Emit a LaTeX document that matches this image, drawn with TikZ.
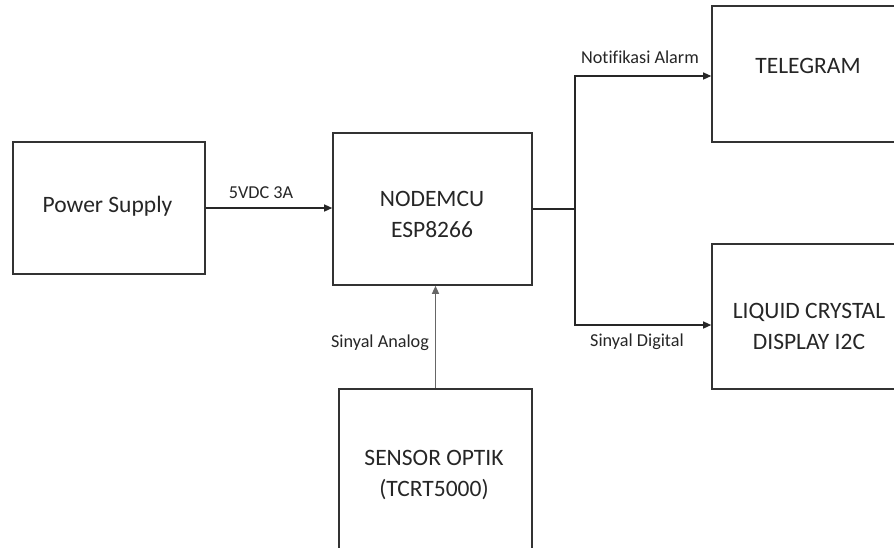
\documentclass[tikz,border=0pt]{standalone}
\usepackage{fontspec}
\setmainfont[Ligatures={NoCommon}]{Carlito}
\usetikzlibrary{arrows.meta}
\begin{document}
\begin{tikzpicture}[x=1pt,y=-1pt,
  blk/.style={draw=black!80,line width=1.6pt,rectangle,inner sep=0pt},
  boxtxt/.style={font=\fontsize{23.5}{31}\selectfont,text=black!85,anchor=base,align=center,inner sep=0pt},
  lbl/.style={font=\fontsize{18.2}{20}\selectfont,text=black!85,anchor=base,inner sep=0pt},
  arr/.style={draw=black!85,line width=1.3pt,-{Triangle[length=8pt,width=7pt]}},
  ln/.style={draw=black!85,line width=1.3pt}]
\useasboundingbox (0,0) rectangle (894,547);
\clip (0,0) rectangle (894,547);
\fill[white] (0,0) rectangle (894,547);
% boxes
\node[blk,minimum width=192pt,minimum height=132pt] (ps) at (109,208) {};
\node[blk,minimum width=199pt,minimum height=152pt] (mcu) at (432.5,209) {};
\node[blk,minimum width=200pt,minimum height=136pt] (tel) at (812,74) {};
\node[blk,minimum width=200pt,minimum height=145pt] (lcd) at (812,316.5) {};
\node[blk,minimum width=193pt,minimum height=200pt] (sen) at (435.5,489) {};
% box texts (base = baseline of last line)
\node[boxtxt] (pst) at (107.5,212) {Power Supply};
\node[boxtxt] (mcut) at (432,237) {NODEMCU\\ESP8266};
\node[boxtxt] (telt) at (808,73) {TELEGRAM};
\node[boxtxt] (lcdt) at (809,349) {LIQUID CRYSTAL\\DISPLAY I2C};
\node[boxtxt] (sent) at (434,496) {SENSOR OPTIK\\(TCRT5000)};
% connectors
\coordinate (jn) at (575,209);
\draw[arr] (ps.east) -- (ps.east -| mcu.west);
\draw[ln] (mcu.east) -- (jn);
\draw[arr] (jn) |- ([yshift=-2pt]tel.west);
\draw[arr] (jn) |- ([yshift=-8.5pt]lcd.west);
\draw[arr,draw=black!60] (sen.north) -- (sen.north |- mcu.south);
% labels
\node[lbl] (l1) at (261,198) {5VDC 3A};
\node[lbl] (l2) at (640,63) {Notifikasi Alarm};
\node[lbl] (l3) at (637,346) {Sinyal Digital};
\node[lbl] (l4) at (380,347) {Sinyal Analog};
\end{tikzpicture}
\end{document}
